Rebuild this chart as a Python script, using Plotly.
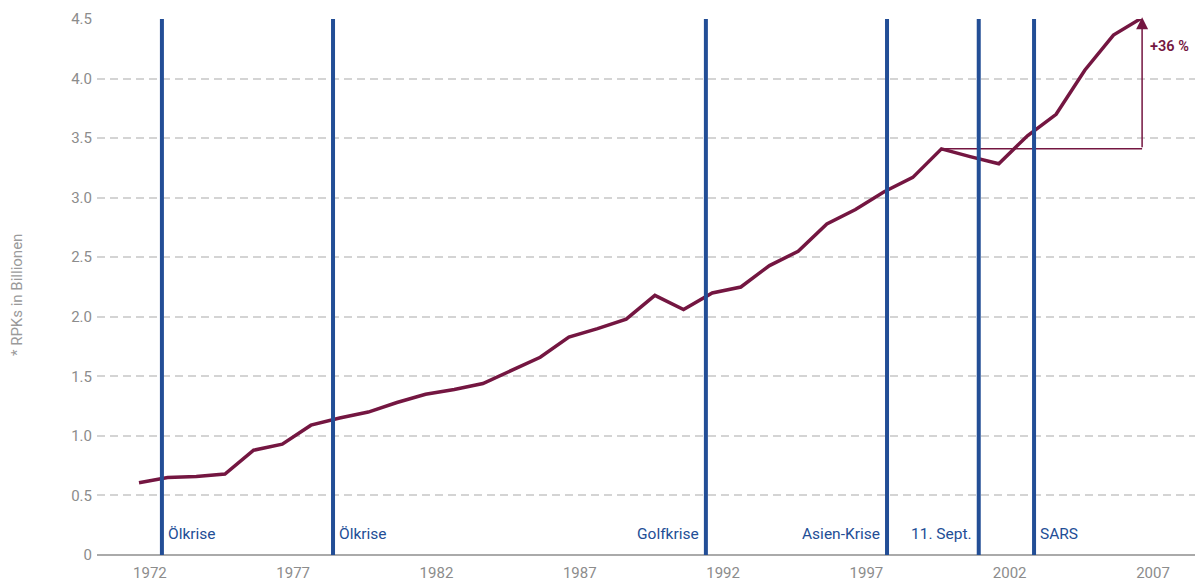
import plotly.graph_objects as go

years = list(range(1972, 2008))
rpk = [0.607, 0.65, 0.66, 0.68, 0.88, 0.93, 1.09, 1.15, 1.20, 1.28,
       1.35, 1.39, 1.44, 1.55, 1.66, 1.83, 1.90, 1.98, 2.18, 2.06,
       2.20, 2.25, 2.43, 2.55, 2.78, 2.90, 3.05, 3.17, 3.41, 3.345,
       3.285, 3.52, 3.70, 4.07, 4.365, 4.51]

event_x = [1972.8, 1978.77, 1991.78, 1998.1, 2001.3, 2003.23]
event_labels = ["Ölkrise", "Ölkrise", "Golfkrise", "Asien-Krise", "11. Sept.", "SARS"]
event_side = ["right", "right", "left", "left", "left", "right"]

tick_years = [1972, 1977, 1982, 1987, 1992, 1997, 2002, 2007]
y_ticks = [0, 0.5, 1.0, 1.5, 2.0, 2.5, 3.0, 3.5, 4.0, 4.5]
y_ticktext = ["0", "0.5", "1.0", "1.5", "2.0", "2.5", "3.0", "3.5", "4.0", "4.5"]

base_year = 2000
growth_label = "+36 %"
y_title = "* RPKs in Billionen"

MAROON = "#741641"
BLUE = "#234e96"
GREY = "#8c8c8c"
FONT = "Roboto"

fig = go.Figure()

fig.add_trace(go.Scatter(
    x=years, y=rpk, mode="lines",
    line=dict(color=MAROON, width=3.5),
    hoverinfo="skip", showlegend=False, cliponaxis=False,
))

shapes = []
annotations = []
for ex, lab, side in zip(event_x, event_labels, event_side):
    shapes.append(dict(type="line", xref="x", yref="y", x0=ex, x1=ex, y0=0, y1=4.5,
                       line=dict(color=BLUE, width=4), layer="above"))
    annotations.append(dict(
        x=ex, y=0.18, xref="x", yref="y", text=lab, showarrow=False,
        xanchor="left" if side == "right" else "right",
        xshift=4 if side == "right" else -5,
        yanchor="middle",
        font=dict(family=FONT, size=15.5, color=BLUE),
    ))

bi = years.index(base_year)
shapes.append(dict(type="line", xref="x", yref="y",
                   x0=years[bi], x1=years[-1], y0=rpk[bi], y1=rpk[bi],
                   line=dict(color=MAROON, width=1.5), layer="below"))
annotations.append(dict(
    x=years[-1], y=rpk[-1] + 0.005, ax=years[-1], ay=rpk[bi],
    xref="x", yref="y", axref="x", ayref="y",
    showarrow=True, arrowhead=2, arrowsize=1.6, arrowwidth=1.5,
    arrowcolor=MAROON, text="",
))
annotations.append(dict(
    x=years[-1], y=4.27, xref="x", yref="y", text=growth_label,
    showarrow=False, xanchor="left", xshift=6, yanchor="middle",
    font=dict(family=FONT, size=14.5, color=MAROON, weight=600),
))
annotations.append(dict(
    x=-80 / 1104, y=0.485, xref="paper", yref="paper", text=y_title,
    showarrow=False, textangle=-90, xanchor="center", yanchor="middle",
    borderpad=0,
    font=dict(family=FONT, size=15, color="#9a9a9a"),
))

fig.update_layout(
    width=1195, height=580,
    margin=dict(l=89, r=2, t=11, b=33),
    paper_bgcolor="white", plot_bgcolor="white",
    font=dict(family=FONT, color=GREY, size=15),
    shapes=shapes, annotations=annotations,
    xaxis=dict(
        range=[1970.535, 2009.055],
        tickvals=[y + 0.38 for y in tick_years],
        ticktext=[str(y) for y in tick_years],
        showgrid=False, zeroline=False, showline=False,
        ticks="", ticklabelstandoff=7, automargin=False,
        tickfont=dict(family=FONT, size=15, color=GREY),
    ),
    yaxis=dict(
        range=[0, 4.5],
        tickvals=y_ticks, ticktext=y_ticktext,
        showgrid=True, gridcolor="#d4d4d4", gridwidth=2, griddash="8px,5px",
        zeroline=True, zerolinecolor="#aaaaaa", zerolinewidth=2,
        showline=False, ticks="", ticklabelstandoff=4, automargin=False,
        tickfont=dict(family=FONT, size=15, color=GREY),
    ),
)

fig.write_html("out.html")
